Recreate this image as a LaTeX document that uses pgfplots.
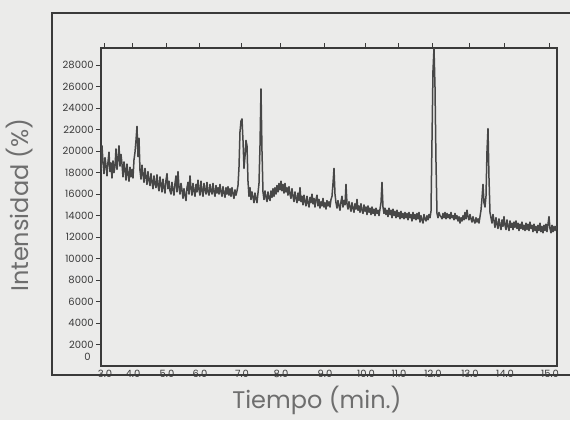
\documentclass[border=0pt]{standalone}
\usepackage{fontspec}
\setmainfont{Poppins}
\usepackage{pgfplots}
\pgfplotsset{compat=1.18}
\usetikzlibrary{backgrounds}
\definecolor{paper}{HTML}{EBEBEA}
\definecolor{ink}{HTML}{3A3A3A}
\definecolor{trace}{HTML}{474747}
\definecolor{labelgray}{HTML}{6E6E6E}

% x in chart positions (101..557), tick labels give the minutes
\pgfplotstableread{
x y
101 18300
102 20500
103 19000
104 17900
105 19400
106 18700
107 17700
108 19000
109 19900
110 18100
111 18900
112 17500
113 19100
114 18000
115 18600
116 20200
117 18300
118 19200
119 20500
120 18600
121 19700
122 18800
123 17600
124 19000
125 18300
126 17300
127 18800
128 17900
129 17200
130 18500
131 17600
132 18300
133 17500
134 19200
135 19900
136 21000
137 22300
138 19500
139 21200
140 18200
141 17400
142 18700
143 17800
144 17100
145 18400
146 17600
147 16900
148 18100
149 17300
150 16800
151 17900
152 17100
153 16500
154 17700
155 17000
156 16600
157 17800
158 16800
159 16300
160 17600
161 16900
162 16200
163 17400
164 16600
165 16100
166 17300
167 17900
168 16500
169 17200
170 16300
171 16000
172 17100
173 16400
174 15900
175 17000
176 17700
177 16200
178 18100
179 16600
180 16000
181 17000
182 16400
183 15600
184 16500
185 15900
186 15400
187 16600
188 17100
189 16000
190 17700
191 16500
192 15900
193 17000
194 16300
195 15800
196 16900
197 16200
198 17300
199 16400
200 15900
201 17200
202 16300
203 15800
204 17000
205 16400
206 16000
207 17100
208 16200
209 15900
210 16900
211 16300
212 16000
213 17000
214 16200
215 15800
216 16800
217 16100
218 16600
219 16000
220 16900
221 16200
222 15800
223 16700
224 16100
225 15700
226 16600
227 16000
228 16700
229 15900
230 16500
231 15800
232 16600
233 16000
234 15600
235 16400
236 15900
237 16300
238 16800
239 18500
240 21800
241 22800
242 23000
243 21000
244 18400
245 19500
246 21000
247 20500
248 17200
249 15800
250 16600
251 15500
252 16200
253 15700
254 15200
255 16100
256 15600
257 15200
258 16100
259 17000
260 20500
261 25800
262 20000
263 16200
264 15500
265 16300
266 15700
267 15300
268 16200
269 15600
270 15400
271 16300
272 15700
273 16500
274 15800
275 16600
276 16000
277 16800
278 16200
279 17000
280 16400
281 17200
282 16300
283 16900
284 16100
285 17000
286 16200
287 16600
288 15900
289 16700
290 16000
291 15600
292 16500
293 15800
294 15300
295 16200
296 15600
297 15200
298 16100
299 15400
300 16600
301 15300
302 15800
303 15000
304 15900
305 15300
306 14900
307 15800
308 15200
309 14800
310 15700
311 15200
312 16000
313 15100
314 15600
315 14800
316 15500
317 15900
318 14900
319 15500
320 14700
321 15300
322 14900
323 15600
324 14800
325 15200
326 14600
327 15400
328 14900
329 15300
330 14800
331 15500
332 15800
333 17000
334 18400
335 16000
336 15200
337 14700
338 15400
339 14900
340 14500
341 15300
342 15800
343 14800
344 15400
345 15000
346 16900
347 15100
348 14600
349 15300
350 14800
351 14400
352 15200
353 14700
354 14300
355 15100
356 14600
357 15500
358 14500
359 14900
360 14300
361 15100
362 14500
363 14200
364 15000
365 14400
366 14800
367 14100
368 14900
369 14300
370 14700
371 14100
372 14800
373 14200
374 14600
375 14000
376 14700
377 14200
378 14500
379 14000
380 14600
381 15200
382 17100
383 14800
384 14200
385 14700
386 14100
387 14500
388 13900
389 14700
390 14100
391 14500
392 13800
393 14600
394 14000
395 14400
396 13800
397 14500
398 13900
399 14300
400 13700
401 14400
402 13800
403 14200
404 13700
405 14300
406 13800
407 14200
408 13600
409 14300
410 13800
411 14100
412 13500
413 14300
414 13700
415 14100
416 13600
417 14200
418 13700
419 14300
420 13400
421 14000
422 13600
423 13300
424 14100
425 13700
426 13500
427 14000
428 13600
429 14100
430 13800
431 14400
432 21000
433 27500
434 29600
435 26000
436 19000
437 14200
438 13800
439 14300
440 14000
441 13900
442 13700
443 14200
444 13800
445 14300
446 13700
447 14200
448 13800
449 14100
450 13700
451 14300
452 13800
453 14000
454 13600
455 14200
456 13700
457 14000
458 13500
459 13900
460 13300
461 13800
462 13500
463 14000
464 13600
465 14300
466 13700
467 14500
468 13900
469 13600
470 14100
471 13700
472 13400
473 13900
474 13500
475 13300
476 13800
477 13400
478 13700
479 13300
480 13900
481 14500
482 15600
483 16900
484 15200
485 14800
486 15800
487 20000
488 22100
489 17500
490 14300
491 13800
492 13300
493 14100
494 13500
495 12900
496 13800
497 13200
498 12800
499 13700
500 13100
501 12700
502 13600
503 13000
504 13900
505 13100
506 12700
507 13600
508 13000
509 12600
510 13500
511 12900
512 13300
513 12700
514 13400
515 12900
516 13500
517 12800
518 13300
519 12600
520 13200
521 12800
522 13400
523 12700
524 13100
525 12600
526 13300
527 12700
528 13200
529 12600
530 13400
531 12800
532 13100
533 12500
534 13200
535 12600
536 13000
537 12400
538 13100
539 12600
540 13300
541 12500
542 13000
543 12400
544 13100
545 12600
546 13200
547 12500
548 13200
549 13900
550 12800
551 12400
552 13100
553 12500
554 13000
555 12600
556 13000
557 12700
}\trace

\begin{document}
\begin{tikzpicture}
\begin{axis}[
    name=ax,
    at={(0,0)}, anchor=south west,
    scale only axis,
    width=228pt, height=159pt,
    xmin=101, xmax=557,
    ymin=0, ymax=29600,
    axis line style={ink, line width=0.8pt},
    tick align=outside,
    major tick length=2.5pt,
    minor tick length=1.2pt,
    tick style={ink, line width=0.5pt},
    xtick={105,133,167,200,242,281,325,366,399,433,470,505,550},
    xticklabels={3.0,4.0,5.0,6.0,7.0,8.0,9.0,10.0,11.0,12.0,13.0,14.0,15.0},
    xtick pos=top,
    xticklabel pos=bottom,
    minor x tick num=2,
    ytick={2000,4000,...,28000},
    ytick pos=left,
    scaled y ticks=false,
    extra y ticks={0},
    extra y tick labels={0},
    extra y tick style={major tick length=0pt,
        yticklabel style={yshift=4.5pt, xshift=-4pt}},
    /pgf/number format/assume math mode=true,
    /pgf/number format/1000 sep={},
    ticklabel style={font=\fontsize{5}{5}\selectfont, text=ink},
    xticklabel style={inner sep=0.5pt, yshift=1pt},
    yticklabel style={inner sep=1pt},
]
\addplot[trace, line width=0.75pt, line join=round, mark=none] table {\trace};
\end{axis}
\draw[ink, line width=0.8pt] (240pt,176.5pt) -- (-24.5pt,176.5pt) -- (-24.5pt,-4.5pt) -- (240pt,-4.5pt);
\node[labelgray, font=\fontsize{12}{12}\selectfont, rotate=90] at (-40.5pt,80.5pt) {Intensidad (\%)};
\node[labelgray, font=\fontsize{12}{12}\selectfont] at (108pt,-17pt) {Tiempo (min.)};
\pgfresetboundingbox
\path[use as bounding box] (-50.5pt,-27pt) rectangle (234.5pt,183pt);
\begin{scope}[on background layer]
\fill[paper] (-50.5pt,-27pt) rectangle (234.5pt,183pt);
\end{scope}
\end{tikzpicture}
\end{document}
